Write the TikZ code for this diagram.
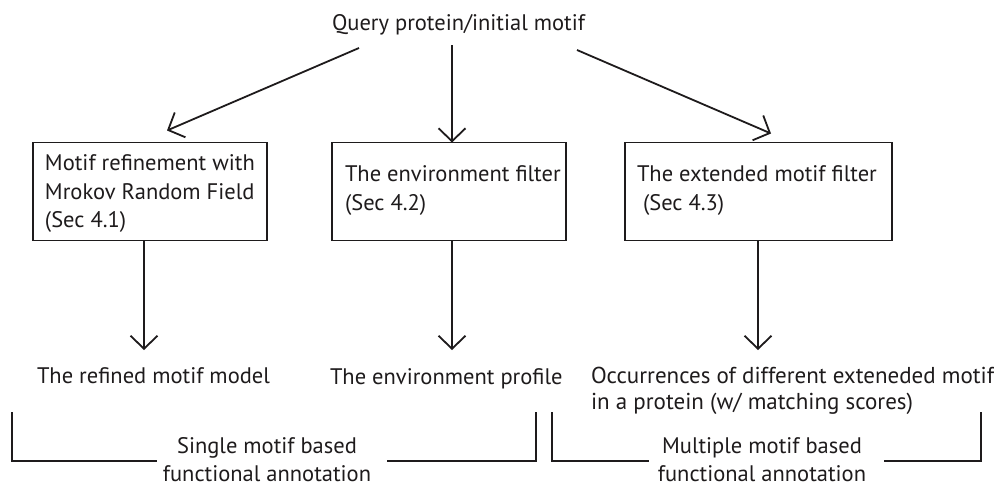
\documentclass[tikz,border=0pt]{standalone}
\usepackage{fontspec}
\setmainfont{PT Sans}
\usetikzlibrary{arrows.meta}
\definecolor{ink}{RGB}{30,27,28}
\begin{document}
\begin{tikzpicture}[x=1pt,y=-1pt,
  every node/.style={inner sep=0pt, outer sep=0pt, text=ink},
  txt/.style={font=\fontsize{22.5}{28.3}\selectfont, align=left, anchor=base west},
  ctxt/.style={font=\fontsize{22.5}{28.3}\selectfont, align=center, anchor=base},
  box/.style={draw=ink, line width=1.4pt, rectangle, minimum width=234pt, minimum height=98pt},
  arr/.style={draw=ink, line width=1.8pt, -{Straight Barb[length=13pt,width=27pt,line width=1.8pt]}},
  brk/.style={draw=ink, line width=2.6pt, line join=miter}
]
\useasboundingbox (0,0) rectangle (994,491);

% top input
\node[txt] (q) at (332,30) {Query protein/initial motif};

% processing steps (multi-line nodes sit on the baseline of their last line)
\node[box] (b1) at (150,191.5) {};
\node[box] (b2) at (449,191.5) {};
\node[box, minimum width=267pt] (b3) at (758.5,191.5) {};
\node[txt] (t1) at (45,227.3) {Motif refinement with\\Mrokov Random Field\\(Sec 4.1)};
\node[txt] (t2) at (345,210) {The environment filter\\(Sec 4.2)};
\node[txt] (t3) at (637,210) {The extended motif filter\\\hspace{6pt}(Sec 4.3)};

% results
\node[txt] (r1) at (37,383) {The refined motif model};
\node[txt] (r2) at (330,384.5) {The environment profile};
\node[txt, font=\fontsize{23}{28.3}\selectfont] (r3) at (591,409) {Occurrences of different exteneded motif\\[-2.3pt]in a protein (w/ matching scores)};

% arrows from the query
\coordinate (s1) at (359,48);
\coordinate (s2) at (452,45);
\coordinate (s3) at (577,50);
\draw[arr] (s1) -- ([shift={(17,-12)}]b1.north);
\draw[arr] (s2) -- (s2 |- b2.north);
\draw[arr] (s3) -- ([shift={(12.5,-9)}]b3.north);

% arrows to the results
\coordinate (e1) at (144,350);
\coordinate (e2) at (452,350);
\coordinate (e3) at (758,350);
\draw[arr] (b1.south -| e1) -- (e1);
\draw[arr] (b2.south -| e2) -- (e2);
\draw[arr] (b3.south -| e3) -- (e3);

% grouping brackets
\node[ctxt] (l1) at (267,481.5) {Single motif based\\functional annotation};
\node[ctxt] (l2) at (762,481.5) {Multiple motif based\\functional annotation};
\draw[brk] (12,412) -- (12,461) -- (157,461);
\draw[brk] (387,461) -- (536,461) -- (536,412);
\draw[brk] (552,412) -- (552,461) -- (649,461);
\draw[brk] (884,461) -- (981,461) -- (981,412);
\end{tikzpicture}
\end{document}
